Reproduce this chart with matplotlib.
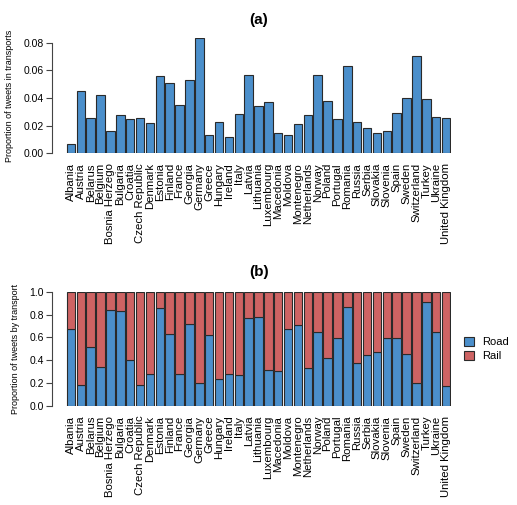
import matplotlib
matplotlib.use("Agg")
import matplotlib.pyplot as plt
import numpy as np
from matplotlib.patches import Patch

plt.rcParams['font.family'] = ['Liberation Sans', 'DejaVu Sans']

countries = ['Albania', 'Austria', 'Belarus', 'Belgium', 'Bosnia Herzego', 'Bulgaria',
             'Croatia', 'Czech Republic', 'Denmark', 'Estonia', 'Finland', 'France',
             'Georgia', 'Germany', 'Greece', 'Hungary', 'Ireland', 'Italy', 'Latvia',
             'Lithuania', 'Luxembourg', 'Macedonia', 'Moldova', 'Montenegro',
             'Netherlands', 'Norway', 'Poland', 'Portugal', 'Romania', 'Russia',
             'Serbia', 'Slovakia', 'Slovenia', 'Spain', 'Sweden', 'Switzerland',
             'Turkey', 'Ukraine', 'United Kingdom']

# (a) proportion of tweets in transports
prop_transport = [0.0067, 0.0450, 0.0255, 0.0420, 0.0164, 0.0277, 0.0248, 0.0253,
                  0.0221, 0.0557, 0.0511, 0.0352, 0.0528, 0.0832, 0.0130, 0.0229,
                  0.0118, 0.0284, 0.0564, 0.0342, 0.0369, 0.0145, 0.0130, 0.0210,
                  0.0277, 0.0564, 0.0376, 0.0246, 0.0629, 0.0229, 0.0181, 0.0149,
                  0.0161, 0.0289, 0.0398, 0.0704, 0.0390, 0.0265, 0.0255]

# (b) share of road among transport tweets (rest is rail)
road = [0.671, 0.181, 0.513, 0.344, 0.837, 0.828, 0.405, 0.181, 0.283, 0.854,
        0.627, 0.283, 0.717, 0.204, 0.621, 0.233, 0.277, 0.274, 0.770, 0.778,
        0.315, 0.306, 0.671, 0.706, 0.329, 0.650, 0.417, 0.592, 0.869, 0.373,
        0.443, 0.472, 0.592, 0.592, 0.452, 0.204, 0.910, 0.644, 0.178]
rail = [1 - r for r in road]

blue = '#4b8fcb'
red = '#cd6363'
edge = '#2a2a2a'

W, H = 517, 505
fig = plt.figure(figsize=(W / 100, H / 100), dpi=100)

def px_axes(left, right, top, bottom):
    return fig.add_axes([left / W, 1 - bottom / H, (right - left) / W, (bottom - top) / H])

x = np.arange(len(countries))

def style(ax, ymax, ticks, fmt):
    for s in ['top', 'right', 'bottom']:
        ax.spines[s].set_visible(False)
    ax.spines['left'].set_position(('outward', 10))
    ax.spines['left'].set_bounds(0, ymax)
    ax.spines['left'].set_color('#444444')
    ax.spines['left'].set_linewidth(0.8)
    ax.set_yticks(ticks)
    ax.set_yticklabels([fmt % t for t in ticks])
    ax.tick_params(axis='y', labelsize=7.5, length=4, width=0.8, color='#444444', pad=2)
    ax.set_xticks(x)
    ax.set_xticklabels(countries, rotation=90, fontsize=8.2)
    ax.tick_params(axis='x', length=0, pad=7)
    ax.set_xlim(-0.5, len(countries) - 0.5)

# panel (a)
ax1 = px_axes(66, 451, 38.3, 153.3)
ax1.bar(x, prop_transport, width=0.86, color=blue, edgecolor=edge, linewidth=0.8)
ax1.set_ylim(0, 0.0832)
style(ax1, 0.08, [0.0, 0.02, 0.04, 0.06, 0.08], '%.2f')
ax1.set_ylabel('Proportion of tweets in transports', fontsize=6.5, labelpad=7)

# panel (b)
ax2 = px_axes(66, 451, 291.7, 406)
ax2.bar(x, road, width=0.86, color=blue, edgecolor=edge, linewidth=0.8)
ax2.bar(x, rail, bottom=road, width=0.86, color=red, edgecolor=edge, linewidth=0.8)
ax2.set_ylim(0, 1.0)
style(ax2, 1.0, [0.0, 0.2, 0.4, 0.6, 0.8, 1.0], '%.1f')
ax2.set_ylabel('Proportion of tweets by transport', fontsize=6.5, labelpad=7)

fig.text(259 / W, 1 - 20 / H, '(a)', ha='center', va='center', fontsize=11, fontweight='bold')
fig.text(259 / W, 1 - 272 / H, '(b)', ha='center', va='center', fontsize=11, fontweight='bold')

handles = [Patch(facecolor=blue, edgecolor=edge, linewidth=0.8, label='Road'),
           Patch(facecolor=red, edgecolor=edge, linewidth=0.8, label='Rail')]
fig.legend(handles=handles, loc='center left', bbox_to_anchor=(458 / W, 1 - 349 / H),
           frameon=False, fontsize=8, handlelength=0.9, handleheight=0.9,
           handletextpad=0.8, labelspacing=0.3, borderpad=0)

fig.savefig('out.png', dpi=100)
